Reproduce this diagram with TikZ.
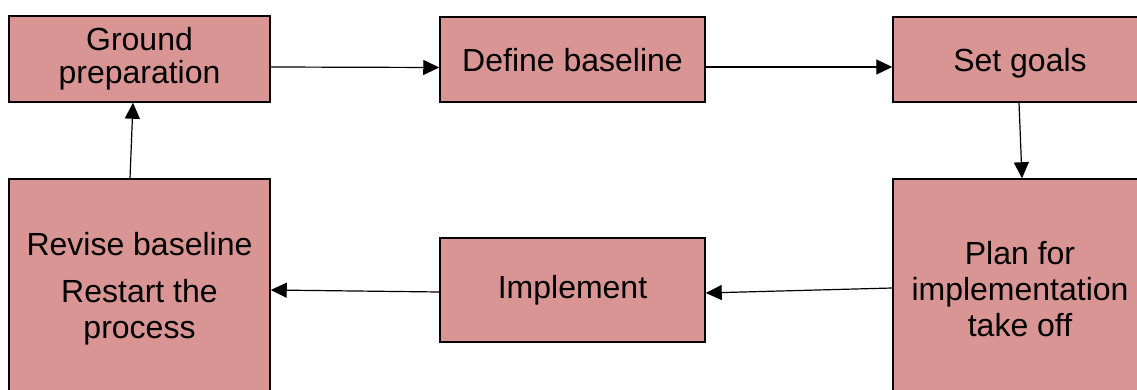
\documentclass[tikz,border=0pt]{standalone}
\usepackage{fontspec}
\setmainfont{Liberation Sans}
\usetikzlibrary{arrows.meta}
\definecolor{boxfill}{HTML}{D99594}
\tikzset{
  box/.style={draw=black, line width=1.5pt, fill=boxfill, rectangle, align=center,
    inner sep=0pt, font=\fontsize{32}{36}\selectfont},
  conn/.style={draw=black, line width=1.2pt, -{Triangle[length=16pt,width=15pt]}}
}
\begin{document}
\begin{tikzpicture}[x=1pt,y=-1pt]
\useasboundingbox (0,0) rectangle (1137,390);
\clip (0,0) rectangle (1137,390);
\node[box, minimum width=261pt, minimum height=86pt] (g) at (139.5,59) {\raisebox{-3pt}{Ground}\\preparation};
\node[box, minimum width=265pt, minimum height=85pt, text depth=0pt] (d) at (572.5,59.5) {Define baseline};
\node[box, minimum width=254pt, minimum height=85pt, text depth=0pt] (s) at (1020,59.5) {Set goals};
\node[box, minimum width=261pt, minimum height=220pt] (r) at (139.5,289) {Revise baseline\\[11pt]Restart the\\process};
\node[box, minimum width=265pt, minimum height=104pt] (i) at (572.5,290) {Implement};
\node[box, minimum width=254pt, minimum height=220pt] (p) at (1020,289) {Plan for\\implementation\\take off};
\draw[conn] ([yshift=-8pt]g.east) -- ([yshift=-8pt]d.west);
\draw[conn] ([yshift=-7.5pt]d.east) -- ([yshift=-7.5pt]s.west);
\draw[conn] ([xshift=-1pt]s.south) -- ([xshift=2pt]p.north);
\draw[conn] ([yshift=1pt]p.west) -- ([yshift=-3pt]i.east);
\draw[conn] ([yshift=-2pt]i.west) -- ([yshift=-1pt]r.east);
\draw[conn] ([xshift=-9.5pt]r.north) -- ([xshift=-6.5pt]g.south);
\end{tikzpicture}
\end{document}
